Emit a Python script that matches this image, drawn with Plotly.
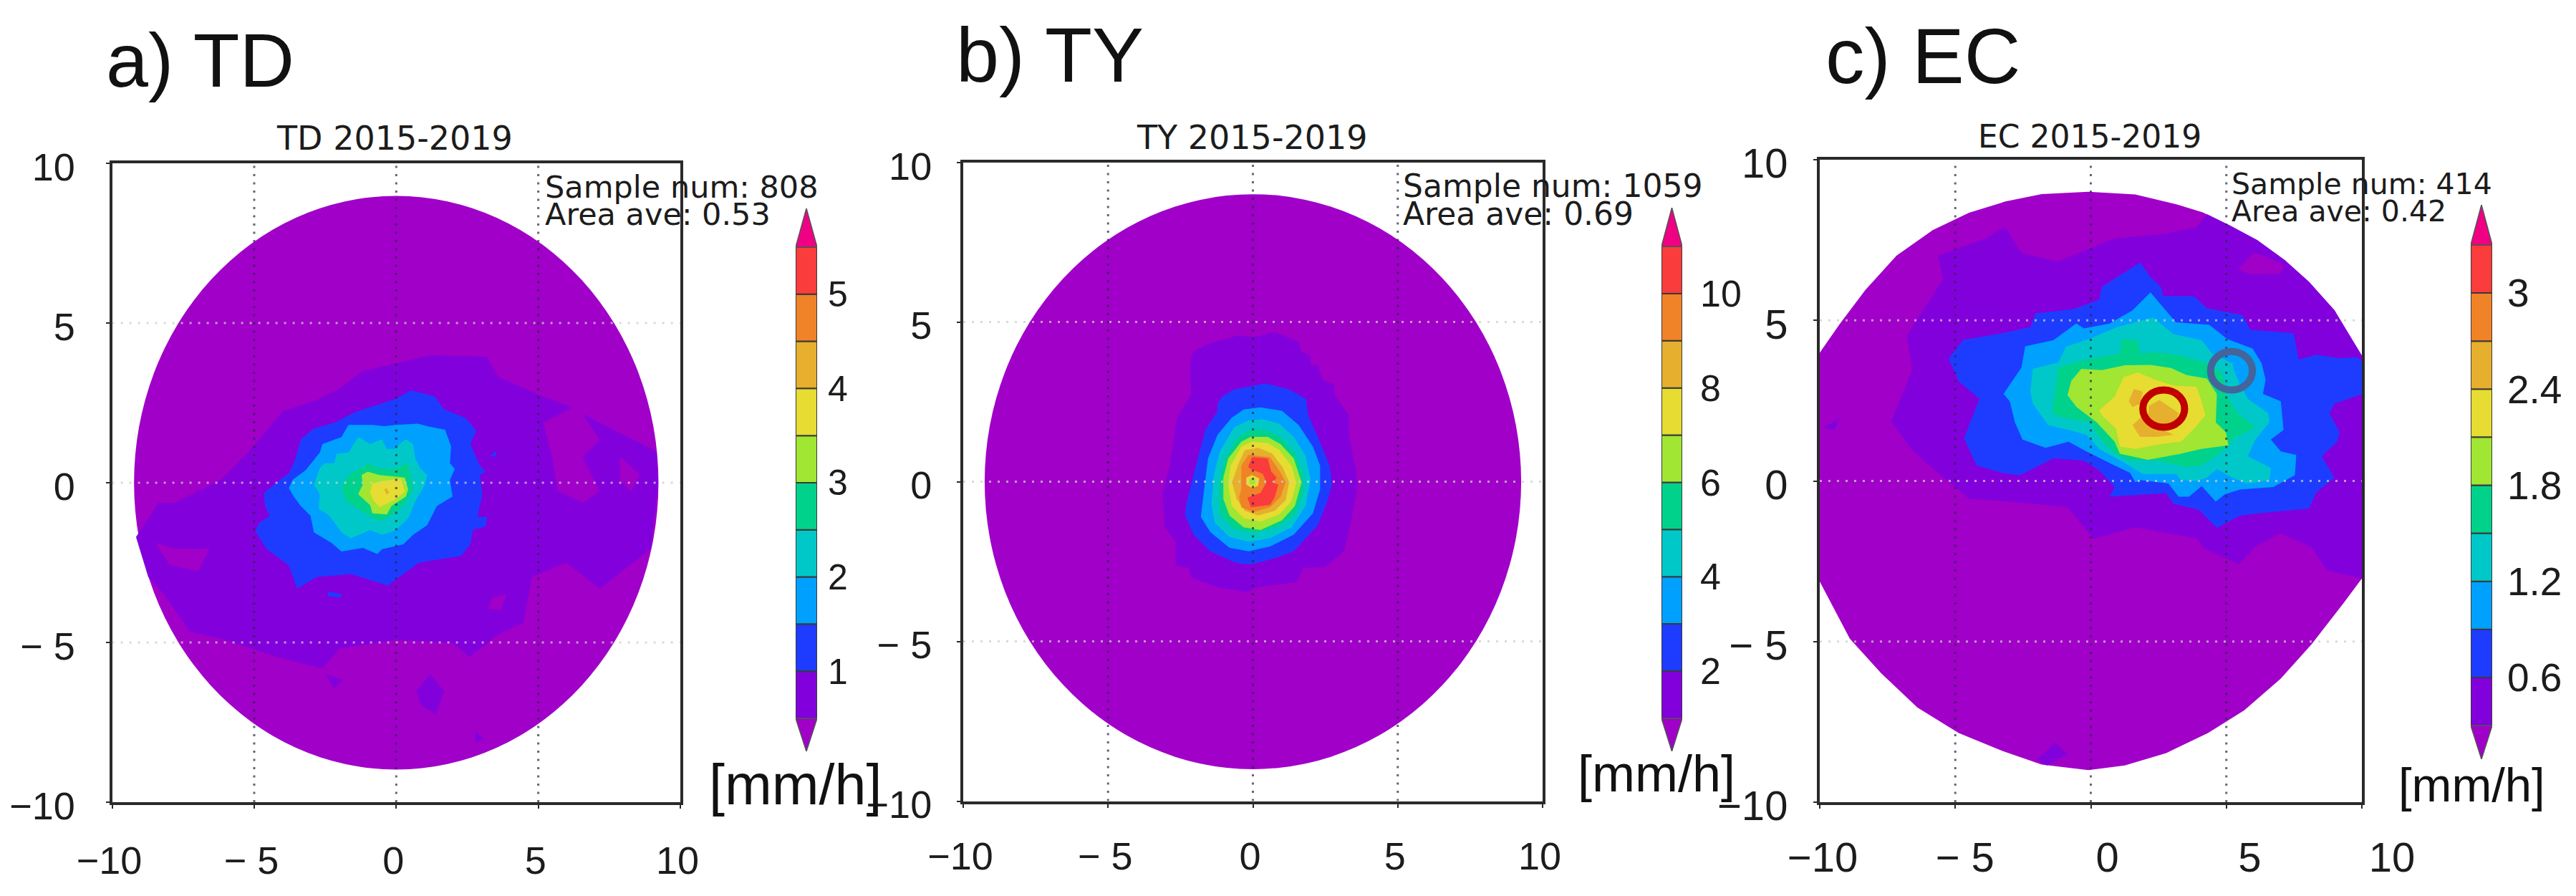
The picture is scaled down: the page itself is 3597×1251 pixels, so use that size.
import plotly.graph_objects as go

# ---------- canvas ----------
W, H = 3597, 1251

# ---------- colour bands (lowest tip, ten segments, highest tip) ----------
BAND_COLORS = ["#a000c8", "#8200dc", "#1e3cff", "#00a0ff", "#00c8c8", "#00d28c",
               "#a0e632", "#e6dc32", "#e6af2d", "#f08228", "#fa3c3c", "#f00082"]

# ---------- colourbar levels ----------
TD_LEVELS = [0.5, 1, 1.5, 2, 2.5, 3, 3.5, 4, 4.5, 5, 5.5]
TY_LEVELS = [1, 2, 3, 4, 5, 6, 7, 8, 9, 10, 11]
EC_LEVELS = [0.3, 0.6, 0.9, 1.2, 1.5, 1.8, 2.1, 2.4, 2.7, 3, 3.3]
TD_TIPS = [0.15, 5.91]
TY_TIPS = [0.3, 11.82]
EC_TIPS = [0.09, 3.55]
TD_CB_TICKS = [1, 2, 3, 4, 5]
TY_CB_TICKS = [2, 4, 6, 8, 10]
EC_CB_TICKS = [0.6, 1.2, 1.8, 2.4, 3]
TD_CB_LABELS = ["1", "2", "3", "4", "5"]
TY_CB_LABELS = ["2", "4", "6", "8", "10"]
EC_CB_LABELS = ["0.6", "1.2", "1.8", "2.4", "3"]

# ---------- axes ----------
AXIS_TICKS = [-10, -5, 0, 5, 10]
X_LABELS = ["\u221210", "\u2212 5", "0", "5", "10"]
Y_LABELS = ["\u221210", "\u2212 5", "0", "5", "10"]
GRID_TICKS = [-5, 0, 5]

# ---------- texts ----------
PANEL_TITLES = ["a) TD", "b) TY", "c) EC"]
SUB_TITLES = ["TD 2015-2019", "TY 2015-2019", "EC 2015-2019"]
SAMPLE_TEXT = ["Sample num: 808", "Sample num: 1059", "Sample num: 414"]
AREA_TEXT = ["Area ave: 0.53", "Area ave: 0.69", "Area ave: 0.42"]
UNIT_TEXT = "[mm/h]"

# ---------- rain-rate disc extents (x radius, y radius) ----------
TD_DISC = [9.23, 8.98]
TY_DISC = [9.26, 9.0]
EC_DISC = [(-10, 3.99), (-9.27, 4.88), (-8.32, 5.94), (-7.17, 7.01), (-5.83, 7.81), (-4.49, 8.35), (-3.15, 8.70),
           (-1.81, 8.93), (-0.09, 9.0), (1.64, 8.92), (3.13, 8.62), (4.13, 8.36), (5.14, 7.95), (6.14, 7.50), (7.15, 6.88),
           (8.05, 6.20), (8.99, 5.31), (9.47, 4.64), (10, 3.90), (10, -3.04), (9.29, -3.84), (8.14, -5.09), (7.0, -6.16),
           (5.66, -7.14), (4.32, -7.85), (2.78, -8.47), (1.25, -8.86), (-0.09, -9.0), (-1.81, -8.83), (-3.34, -8.38),
           (-4.87, -7.85), (-6.40, -7.05), (-7.74, -5.98), (-8.89, -4.91), (-10, -3.13)]

# ---------- TD contours ----------
TD_B1 = [(-9.16, -1.70), (-8.37, -0.63), (-7.77, -0.63), (-6.18, 0.09), (-5.18, 0.98), (-3.98, 2.24), (-2.79, 2.59),
         (-1.99, 2.95), (-1.20, 3.49), (1.20, 3.99), (3.19, 3.94), (3.59, 3.31), (4.98, 2.77), (5.98, 2.42),
         (7.17, 1.88), (9.16, 0.98), (9.22, 0), (8.96, -2.06), (7.17, -3.31), (5.98, -2.50), (4.78, -2.95),
         (4.48, -4.38), (3.59, -4.74), (2.59, -5.46), (1.99, -5.01), (0, -4.92), (-1.99, -5.19), (-2.59, -5.81),
         (-4.18, -5.46), (-5.98, -4.92), (-7.27, -4.65), (-8.17, -3.49), (-8.73, -2.95)]
TD_B0_P1 = [(5.18, 1.88), (6.37, 2.42), (7.17, 1.34), (6.57, 0.81), (7.17, -0.27), (6.57, -0.63), (5.68, -0.27), (5.48, 0.81)]
TD_B0_P2 = [(7.87, 0.81), (8.57, 0.27), (8.27, -0.27), (7.87, 0.09)]
TD_B0_P3 = [(-8.47, -1.88), (-7.77, -2.06), (-6.57, -2.06), (-6.97, -2.77), (-7.97, -2.59)]
TD_B0_P4 = [(3.39, -3.58), (3.88, -3.49), (3.69, -3.99), (3.23, -3.94)]
TD_B1_P1 = [(0.70, -6.53), (1.20, -5.99), (1.69, -6.53), (1.39, -7.25), (0.90, -6.98)]
TD_B1_P2 = [(-2.49, -5.99), (-1.89, -6.17), (-2.19, -6.44)]
TD_B1_P3 = [(2.79, -7.78), (3.09, -8.05), (2.79, -8.14)]
TD_B2 = [(-4.96, -1.52), (-4.83, -1.26), (-4.45, -1.03), (-4.62, -0.73), (-4.66, -0.32), (-3.78, 0.31), (-3.57, 0.69),
         (-3.36, 1.36), (-2.90, 1.70), (-2.18, 1.88), (-1.43, 2.22), (-0.50, 2.48), (0, 2.63), (0.51, 2.89),
         (1.35, 2.71), (1.68, 2.30), (2.44, 2.03), (2.82, 1.62), (2.61, 1.21), (2.94, 0.54), (3.15, 0.35),
         (2.94, 0.24), (3.03, -0.36), (2.86, -1.07), (3.20, -1.07), (3.15, -1.37), (2.69, -1.48), (2.61, -1.93),
         (2.27, -2.30), (1.99, -2.33), (0.80, -2.50), (-0.30, -3.22), (-1.59, -2.86), (-2.79, -2.95), (-3.49, -3.31),
         (-3.78, -2.59), (-4.58, -2.06)]
TD_B2_P1 = [(3.32, 0.84), (3.49, 0.99), (3.53, 0.87), (3.36, 0.80)]
TD_B2_P2 = [(-2.4, -3.4), (-1.9, -3.5), (-2.0, -3.6), (-2.4, -3.55)]
TD_B3 = [(-3.78, -0.17), (-3.65, 0.09), (-3.19, 0.39), (-2.69, 0.95), (-2.60, 1.21), (-1.93, 1.43), (-1.68, 1.81),
         (-0.84, 1.81), (-0.42, 1.77), (0, 1.81), (0.76, 1.85), (1.09, 1.77), (1.72, 1.66), (1.93, 1.14), (1.89, 0.61),
         (2.06, 0.43), (1.89, 0.09), (1.98, -0.43), (1.43, -0.73), (1.09, -1.33), (0.59, -1.63), (0.25, -1.93),
         (-0.50, -2.08), (-0.67, -2.23), (-1.17, -2.04), (-1.93, -2.15), (-2.27, -1.89), (-2.90, -1.55), (-3.02, -1.03),
         (-3.36, -0.73), (-3.61, -0.43)]
TD_B4 = [(-2.90, -0.06), (-2.69, 0.46), (-2.52, 0.61), (-2.18, 0.61), (-2.10, 0.91), (-1.68, 0.95), (-1.34, 1.43),
         (-0.92, 1.21), (-0.50, 1.36), (-0.34, 1.06), (-0.08, 1.06), (0.34, 1.36), (0.59, 1.21), (0.67, 0.76),
         (0.84, 0.46), (1.09, 0.24), (1.01, -0.06), (0.67, -0.58), (0.42, -1.11), (0, -1.48), (-0.50, -1.63),
         (-0.92, -1.48), (-1.60, -1.74), (-1.93, -1.55), (-2.35, -1.03), (-2.73, -0.81), (-2.69, -0.36)]
TD_B5 = [(-1.93, -0.14), (-1.68, 0.24), (-1.26, 0.43), (-1.0, 0.61), (-0.67, 0.46), (-0.08, 0.42), (0.42, 0.61),
         (0.51, 0.24), (0.59, -0.21), (0.30, -0.66), (-0.04, -0.96), (-0.59, -1.22), (-1.09, -0.96), (-1.76, -0.58)]
TD_B6 = [(-1.34, -0.36), (-1.18, -0.06), (-1.22, 0.24), (-1.0, 0.35), (-0.59, 0.24), (0.30, 0.16), (0.42, -0.21),
         (0.34, -0.43), (-0.17, -0.73), (-0.33, -0.99), (-0.84, -0.96), (-0.92, -0.70)]
TD_B7 = [(-0.92, -0.28), (-0.84, -0.02), (-0.50, 0.05), (0.17, 0.13), (0.30, -0.28), (-0.08, -0.55), (-0.59, -0.77), (-0.84, -0.51)]
TD_B8 = [(-0.42, -0.21), (-0.34, -0.17), (-0.25, -0.32), (-0.34, -0.36)]

# ---------- TY contours ----------
TY_B1 = [(-2.13, 3.86), (-2.05, 4.08), (-1.55, 4.31), (-0.56, 4.57), (0.01, 4.53), (0.75, 4.68), (1.58, 4.38), (1.66, 4.08),
         (1.99, 3.93), (1.99, 3.67), (2.24, 3.64), (2.40, 3.19), (2.81, 3.04), (2.81, 2.74), (3.31, 2.07), (3.31, 1.47),
         (3.56, 0.35), (3.60, -0.24), (3.31, -1.58), (3.14, -2.18), (2.48, -2.67), (1.74, -2.70), (1.50, -3.15),
         (0.18, -3.30), (-0.24, -3.45), (-1.22, -3.30), (-2.13, -3.00), (-2.21, -2.70), (-2.67, -2.63), (-2.67, -1.88),
         (-3.04, -1.43), (-3.08, -0.76), (-3.12, -0.39), (-2.87, 0.50), (-2.62, 1.99), (-2.13, 2.74), (-2.17, 3.49)]
TY_B2 = [(-1.22, 2.44), (-1.06, 2.67), (-0.65, 2.89), (-0.07, 3.0), (0.42, 3.08), (1.25, 2.89), (1.83, 2.59), (1.91, 2.07),
         (2.24, 1.40), (2.65, 0.50), (2.73, -0.09), (2.57, -0.61), (2.24, -1.36), (1.41, -2.18), (0.75, -2.40),
         (-0.07, -2.59), (-0.56, -2.55), (-1.47, -2.18), (-2.05, -1.66), (-2.34, -1.06), (-2.30, -0.69), (-2.05, 0.21),
         (-1.64, 1.62), (-1.22, 2.22)]
TY_B3 = [(-0.73, 2.0), (-0.32, 2.26), (0.26, 2.33), (1.0, 2.22), (1.58, 1.77), (2.07, 1.10), (2.32, 0.50), (2.32, -0.24),
         (2.07, -0.99), (1.41, -1.66), (0.59, -2.03), (-0.15, -2.18), (-0.81, -2.07), (-1.47, -1.58), (-1.80, -1.10),
         (-1.68, -0.24), (-1.55, 0.73), (-1.22, 1.47)]
TY_B4 = [(-0.65, 1.70), (-0.15, 1.92), (0.34, 1.96), (0.92, 1.81), (1.41, 1.40), (1.82, 0.80), (1.99, 0.06), (1.82, -0.76),
         (1.33, -1.43), (0.59, -1.77), (-0.15, -1.88), (-0.81, -1.73), (-1.31, -1.29), (-1.43, -0.69), (-1.35, 0.21),
         (-1.14, 0.95)]
TY_B5 = [(-0.52, 1.40), (-0.07, 1.62), (0.42, 1.62), (0.95, 1.40), (1.45, 0.88), (1.74, 0.21), (1.74, -0.39), (1.41, -1.06),
         (0.84, -1.43), (0.01, -1.62), (-0.69, -1.47), (-1.14, -0.99), (-1.18, -0.09), (-0.98, 0.73)]
TY_B6 = [(-0.40, 1.25), (-0.07, 1.40), (0.51, 1.40), (0.95, 1.18), (1.41, 0.73), (1.68, -0.02), (1.45, -0.76), (1.0, -1.21),
         (0.26, -1.51), (-0.32, -1.43), (-0.81, -1.06), (-1.02, -0.54), (-1.02, 0.13), (-0.85, 0.73)]
TY_B7 = [(-0.40, 1.10), (-0.03, 1.25), (0.51, 1.21), (0.92, 0.99), (1.33, 0.50), (1.50, -0.02), (1.33, -0.61), (0.92, -1.02),
         (0.26, -1.25), (-0.32, -1.14), (-0.73, -0.76), (-0.85, -0.09), (-0.77, 0.50)]
TY_B8 = [(-0.28, 0.99), (0.18, 1.06), (0.67, 0.88), (1.04, 0.43), (1.25, -0.02), (1.13, -0.58), (0.75, -0.91), (0.18, -1.06),
         (-0.28, -0.91), (-0.56, -0.54), (-0.72, -0.02), (-0.52, 0.51)]
TY_B9 = [(-0.40, 0.50), (-0.15, 0.84), (0.59, 0.77), (0.96, 0.28), (1.12, -0.02), (0.96, -0.47), (0.59, -0.80), (0.01, -0.95),
         (-0.40, -0.80), (-0.48, -0.47), (-0.40, -0.24), (-0.40, 0.20)]
TY_B10 = [(-0.15, 0.50), (-0.03, 0.77), (0.51, 0.73), (0.63, 0.32), (0.82, 0.13), (0.71, -0.03), (0.88, -0.09), (0.75, -0.50),
          (0.59, -0.73), (-0.07, -0.80), (-0.19, -0.50), (0.26, -0.35), (0.47, -0.02), (0.34, 0.24), (-0.15, 0.43)]
TY_CENTER_B7 = [(-0.23, 0.13), (-0.03, 0.21), (0.22, 0.10), (0.18, -0.13), (-0.03, -0.20), (-0.23, -0.09)]
TY_CENTER_B6 = [(-0.11, 0.09), (0.08, 0.09), (0.08, -0.08), (-0.11, -0.08)]

# ---------- EC contours ----------
EC_B1 = [(-7.36, 1.85), (-6.59, 3.45), (-6.78, 4.52), (-5.44, 6.30), (-5.64, 7.01), (-3.91, 7.54), (-3.15, 7.90), (-2.57, 7.10),
         (-1.23, 6.83), (0.87, 7.54), (2.78, 7.70), (3.90, 7.90), (4.30, 8.30), (5.14, 7.95), (6.14, 7.50), (7.15, 6.88),
         (8.05, 6.20), (8.99, 5.31), (9.47, 4.64), (10, 3.90), (10, -3.04), (8.72, -2.78), (8.14, -2.06), (7.0, -1.62), (6.04, -2.06),
         (5.46, -2.60), (4.12, -2.06), (3.93, -1.80), (1.64, -1.44), (0.10, -1.80), (-0.85, -0.82), (-2.96, -0.64), (-4.49, -0.55),
         (-5.64, 0.25), (-6.59, 0.96)]
EC_B0_P1 = [(5.43, 6.60), (6.0, 7.10), (6.45, 7.0), (7.15, 6.70), (7.0, 6.45), (5.85, 6.43)]
EC_B1_P1 = [(-1.97, -8.68), (-1.33, -8.15), (-0.85, -8.50), (-1.62, -8.86)]
EC_B1_P2 = [(-9.85, 1.67), (-9.27, 1.94), (-9.46, 1.58)]
EC_B2 = [(-5.25, 3.81), (-4.70, 4.40), (-4.21, 4.46), (-3.27, 4.60), (-2.23, 4.79), (-2.04, 5.22), (-0.63, 5.35), (0.31, 5.64),
         (0.41, 6.05), (1.82, 6.80), (2.20, 6.35), (2.58, 6.05), (2.67, 5.75), (3.80, 5.75), (4.28, 5.38), (5.60, 5.16),
         (5.88, 4.71), (7.48, 4.60), (7.67, 3.78), (8.33, 3.93), (9.18, 3.82), (9.84, 3.86), (10, 3.71), (10, 2.70),
         (8.99, 2.41), (8.80, 2.11), (9.18, 1.52), (9.09, 1.22), (8.52, 0.77), (8.99, 0.10), (8.33, -0.34), (8.05, -0.86),
         (6.16, -1.01), (5.50, -1.08), (4.65, -1.46), (3.99, -0.90), (3.05, -0.71), (2.77, -0.38), (0.69, -0.49), (0.88, -0.19),
         (0.31, 0.33), (-0.25, 0.63), (-1.38, 0.70), (-2.61, 0.18), (-3.27, 0.25), (-4.21, 0.48), (-4.68, 1.32), (-4.11, 2.56),
         (-4.87, 3.10)]
EC_B3 = [(-3.22, 2.71), (-2.99, 3.00), (-2.56, 3.53), (-2.42, 4.19), (-1.38, 4.38), (-0.54, 4.90), (-0.25, 4.75), (0.69, 4.90),
         (1.54, 5.31), (2.20, 5.87), (2.77, 5.31), (3.14, 4.94), (4.37, 4.86), (5.03, 4.42), (5.97, 4.12), (6.30, 3.67),
         (6.45, 3.15), (6.35, 2.71), (7.01, 2.48), (7.11, 1.59), (6.64, 1.29), (7.01, 0.92), (7.58, 0.81), (7.53, 0.18),
         (6.73, -0.19), (5.50, -0.27), (4.94, -0.42), (4.61, -0.64), (4.09, -0.16), (3.62, -0.49), (3.24, -0.49), (2.86, -0.08),
         (1.82, 0.03), (1.64, -0.04), (1.45, 0.25), (0.88, 0.48), (-0.16, 0.92), (-0.82, 1.22), (-1.67, 1.03), (-2.52, 1.29),
         (-2.80, 1.82), (-2.99, 2.48)]
EC_B4 = [(-2.23, 2.78), (-2.14, 3.49), (-1.20, 3.69), (-0.91, 4.18), (-0.06, 4.42), (0.97, 4.79), (2.30, 5.09), (3.05, 4.57),
         (4.09, 4.38), (4.47, 3.97), (4.84, 3.82), (5.22, 3.67), (5.31, 3.38), (5.50, 3.00), (5.79, 2.56), (6.54, 2.11),
         (6.59, 1.82), (6.07, 1.29), (5.79, 0.77), (6.64, 0.40), (6.59, 0.03), (5.79, -0.08), (5.22, 0.10), (4.65, 0.37),
         (4.28, 0.10), (3.90, 0.0), (3.33, 0.03), (3.14, 0.22), (1.92, 0.22), (1.26, 0.55), (0.31, 0.99), (-0.16, 1.44),
         (-0.82, 1.59), (-1.57, 1.74), (-2.14, 2.41)]
EC_B5 = [(-1.43, 2.11), (-1.29, 2.93), (-1.20, 3.53), (-0.35, 3.75), (1.07, 3.97), (1.16, 4.42), (1.73, 4.38), (1.82, 3.97),
         (2.39, 4.01), (3.33, 3.90), (4.28, 3.67), (4.84, 3.38), (5.03, 2.63), (5.41, 2.11), (6.07, 1.67), (5.22, 1.29),
         (5.08, 1.07), (4.09, 0.48), (3.52, 0.44), (2.39, 0.63), (1.45, 0.63), (0.88, 0.85), (0.31, 1.37), (-0.06, 1.82),
         (-1.0, 1.96)]
EC_B6 = [(-0.86, 2.67), (-0.72, 3.12), (-0.35, 3.49), (0.41, 3.45), (1.26, 3.60), (2.20, 3.61), (2.96, 3.52), (3.52, 3.30),
         (4.28, 3.19), (4.65, 2.71), (4.61, 1.82), (4.98, 1.52), (5.08, 1.11), (4.09, 1.0), (3.33, 0.85), (2.11, 0.66),
         (1.07, 0.85), (0.88, 1.22), (0.22, 1.82), (-0.53, 2.30)]
EC_B7 = [(0.31, 2.19), (0.88, 2.63), (1.21, 3.23), (1.73, 3.38), (2.39, 3.15), (3.05, 2.97), (3.90, 2.93), (4.09, 2.48),
         (4.23, 2.04), (3.81, 1.63), (3.33, 1.22), (2.58, 1.15), (1.64, 1.0), (1.07, 1.07), (0.93, 1.63), (0.41, 2.04)]
EC_B8_P1 = [(2.15, 2.34), (2.53, 2.52), (3.24, 2.11), (3.05, 1.70), (2.30, 1.70), (2.11, 1.96)]
EC_B8_P2 = [(1.40, 2.48), (1.59, 2.86), (1.92, 2.78), (1.82, 2.41), (1.54, 2.30)]
EC_B8_P3 = [(1.54, 1.74), (1.82, 1.96), (2.58, 1.63), (3.05, 1.44), (2.39, 1.37), (1.82, 1.37)]

# ---------- EC rings (centre x, centre y, x radius, y radius) ----------
EC_RED_RING = [2.69, 2.25, 0.77, 0.58]
EC_BLUE_RING = [5.19, 3.43, 0.77, 0.60]

# ---------- layer order: (polygon, band index) ----------
TD_LAYERS = [(TD_B1, 1), (TD_B0_P1, 0), (TD_B0_P2, 0), (TD_B0_P3, 0), (TD_B0_P4, 0), (TD_B1_P1, 1), (TD_B1_P2, 1), (TD_B1_P3, 1),
             (TD_B2, 2), (TD_B2_P1, 2), (TD_B2_P2, 2), (TD_B3, 3), (TD_B4, 4), (TD_B5, 5), (TD_B6, 6), (TD_B7, 7), (TD_B8, 8)]
TY_LAYERS = [(TY_B1, 1), (TY_B2, 2), (TY_B3, 3), (TY_B4, 4), (TY_B5, 5), (TY_B6, 6), (TY_B7, 7), (TY_B8, 8), (TY_B9, 9), (TY_B10, 10),
             (TY_CENTER_B7, 7), (TY_CENTER_B6, 6)]
EC_LAYERS = [(EC_DISC, 0), (EC_B1, 1), (EC_B0_P1, 0), (EC_B1_P1, 1), (EC_B1_P2, 1), (EC_B2, 2), (EC_B3, 3), (EC_B4, 4), (EC_B5, 5),
             (EC_B6, 6), (EC_B7, 7), (EC_B8_P1, 8), (EC_B8_P2, 8), (EC_B8_P3, 8)]

# ---------- page layout in pixels ----------
PANELS = [
    dict(box=(156.6, 950, 228, 1120), cb=(1111, 1141, 291, 1049), layers=TD_LAYERS, disc=TD_DISC, levels=TD_LEVELS, tips=TD_TIPS,
         cb_ticks=TD_CB_TICKS, cb_labels=TD_CB_LABELS, cb_font=50, cb_off=14, tick_font=54,
         x_off=26, y_off=32, title_xy=(146, 84), title_font=106, sub_xy=(551, 193), sub_font=46,
         info_x=759, info_y=(261, 299), info_font=43, unit_xy=(988, 1095), unit_font=79),
    dict(box=(1345, 2154, 226.6, 1118.5), cb=(2320, 2349, 290, 1049), layers=TY_LAYERS, disc=TY_DISC, levels=TY_LEVELS, tips=TY_TIPS,
         cb_ticks=TY_CB_TICKS, cb_labels=TY_CB_LABELS, cb_font=52, cb_off=24, tick_font=54,
         x_off=22, y_off=24, title_xy=(1333, 76), title_font=108, sub_xy=(1748, 192), sub_font=46,
         info_x=1957, info_y=(260, 298), info_font=44, unit_xy=(2201, 1080), unit_font=72),
    dict(box=(2541, 3298, 223, 1120), cb=(3450, 3480, 286, 1060), layers=EC_LAYERS, disc=None, levels=EC_LEVELS, tips=EC_TIPS,
         cb_ticks=EC_CB_TICKS, cb_labels=EC_CB_LABELS, cb_font=55, cb_off=20, tick_font=58,
         x_off=38, y_off=24, title_xy=(2547, 78), title_font=109, sub_xy=(2918, 190), sub_font=44,
         info_x=3114, info_y=(257, 295), info_font=41, unit_xy=(3347, 1095), unit_font=67,
         label_span=(2545, 3340)),
]

SANS = "Liberation Sans"
STROKE = "DejaVu Sans"
INK = "#1c1c1c"
FRAME = "#2a2a2a"

def dx(v):
    return v / W

def dy(v):
    return 1 - v / H

fig = go.Figure()
shapes = []
annotations = []
layout = {}
axis_no = 0

for p in PANELS:
    # main map axes
    axis_no += 1
    xn, yn = f"x{axis_no}", f"y{axis_no}"
    l, r, t, b = p["box"]
    has_label_axis = "label_span" in p
    layout[f"xaxis{axis_no}"] = dict(
        domain=[dx(l), dx(r)], range=[-10, 10], anchor=yn, automargin=False, tickmode="array",
        tickvals=AXIS_TICKS, ticktext=X_LABELS, showgrid=False, zeroline=False,
        showline=True, mirror=True, linewidth=4, linecolor=FRAME,
        ticks="outside", ticklen=5, tickwidth=2, tickcolor=FRAME,
        showticklabels=not has_label_axis,
        ticklabelstandoff=p["x_off"], ticklabelshift=-4,
        tickfont=dict(family=SANS, size=p["tick_font"], color=INK))
    layout[f"yaxis{axis_no}"] = dict(
        domain=[dy(b), dy(t)], range=[-10, 10], anchor=xn, automargin=False, tickmode="array",
        tickvals=AXIS_TICKS, ticktext=Y_LABELS, showgrid=False, zeroline=False,
        showline=True, mirror=True, linewidth=4, linecolor=FRAME,
        ticks="outside", ticklen=5, tickwidth=2, tickcolor=FRAME,
        ticklabelstandoff=p["y_off"], ticklabelshift=5,
        tickfont=dict(family=SANS, size=p["tick_font"], color=INK))

    if p["disc"] is not None:
        rx, ry = p["disc"]
        shapes.append(dict(type="circle", xref=xn, yref=yn, x0=-rx, x1=rx, y0=-ry, y1=ry,
                           fillcolor=BAND_COLORS[0], line=dict(width=0), layer="below"))

    for poly, band in p["layers"]:
        xs = [v[0] for v in poly]
        ys = [v[1] for v in poly]
        fig.add_trace(go.Scatter(x=xs, y=ys, xaxis=xn, yaxis=yn, mode="lines", fill="toself",
                                 fillcolor=BAND_COLORS[band], line=dict(width=0, color=BAND_COLORS[band]),
                                 hoverinfo="skip", showlegend=False))

    # dotted graticule above the field
    for g in GRID_TICKS:
        shapes.append(dict(type="line", xref=xn, yref=yn, x0=g, x1=g, y0=-10, y1=10, layer="above",
                           line=dict(color="rgba(45,40,70,0.72)", width=3, dash="3px,8.5px")))
        shapes.append(dict(type="line", xref=xn, yref=yn, x0=-10, x1=10, y0=g, y1=g, layer="above",
                           line=dict(color="rgba(205,205,205,0.75)", width=3, dash="3px,9px")))

    # stretched tick-label row used by panel c: a hidden y axis keeps it independent
    if has_label_axis:
        la, lb = p["label_span"]
        axis_no += 1
        lx, ly = f"x{axis_no}", f"y{axis_no}"
        layout[f"xaxis{axis_no}"] = dict(
            domain=[dx(la), dx(lb)], range=[-10, 10], anchor=ly, automargin=False, tickmode="array",
            tickvals=AXIS_TICKS, ticktext=X_LABELS, showgrid=False, zeroline=False,
            showline=False, ticks="", ticklabelstandoff=p["x_off"],
            tickfont=dict(family=SANS, size=p["tick_font"], color=INK))
        layout[f"yaxis{axis_no}"] = dict(domain=[dy(b), dy(t)], range=[-10, 10], anchor=lx, visible=False, automargin=False)
        fig.add_trace(go.Scatter(x=[-10, 10], y=[0, 0], xaxis=lx, yaxis=ly, mode="lines",
                                 line=dict(width=0), opacity=0, hoverinfo="skip", showlegend=False))
        for ring, col in ((EC_RED_RING, "#c00000"), (EC_BLUE_RING, "#44659a")):
            cx, cy, ax, ay = ring
            shapes.append(dict(type="circle", xref=xn, yref=yn, x0=cx - ax, x1=cx + ax, y0=cy - ay, y1=cy + ay,
                               line=dict(color=col, width=10), layer="above"))

    # colourbar on its own small axes
    axis_no += 1
    cxn, cyn = f"x{axis_no}", f"y{axis_no}"
    cl, cr, ct, cb = p["cb"]
    levels, tips = p["levels"], p["tips"]
    layout[f"xaxis{axis_no}"] = dict(domain=[dx(cl), dx(cr)], range=[0, 1], anchor=cyn, visible=False, automargin=False)
    layout[f"yaxis{axis_no}"] = dict(
        domain=[dy(cb), dy(ct)], range=[tips[0], tips[1]], anchor=cxn, side="right", automargin=False, tickmode="array",
        tickvals=p["cb_ticks"], ticktext=p["cb_labels"], showgrid=False, zeroline=False, showline=False,
        ticks="", ticklabelstandoff=p["cb_off"],
        tickfont=dict(family=SANS, size=p["cb_font"], color=INK))
    for i in range(len(levels) - 1):
        fig.add_trace(go.Bar(x=[0.5], y=[levels[i + 1] - levels[i]], base=[levels[i]], width=[1], xaxis=cxn, yaxis=cyn,
                             marker=dict(color=BAND_COLORS[i + 1], line=dict(color="#3a3a3a", width=2)),
                             hoverinfo="skip", showlegend=False))
    for base, tip, col in ((levels[0], tips[0], BAND_COLORS[0]), (levels[-1], tips[1], BAND_COLORS[-1])):
        fig.add_trace(go.Scatter(x=[0, 0.5, 1, 0], y=[base, tip, base, base], xaxis=cxn, yaxis=cyn, mode="lines",
                                 fill="toself", fillcolor=col, line=dict(color="#555555", width=1.5),
                                 hoverinfo="skip", showlegend=False))

for i, p in enumerate(PANELS):
    tx, ty = p["title_xy"]
    annotations.append(dict(text=PANEL_TITLES[i], xref="paper", yref="paper", x=dx(tx), y=dy(ty), xanchor="left", yanchor="middle",
                            showarrow=False, font=dict(family=SANS, size=p["title_font"], color="#111111")))
    sx, sy = p["sub_xy"]
    annotations.append(dict(text=SUB_TITLES[i], xref="paper", yref="paper", x=dx(sx), y=dy(sy), xanchor="center", yanchor="middle",
                            showarrow=False, font=dict(family=STROKE, size=p["sub_font"], color=INK)))
    y1, y2 = p["info_y"]
    annotations.append(dict(text=SAMPLE_TEXT[i], xref="paper", yref="paper", x=dx(p["info_x"]), y=dy(y1), xanchor="left", yanchor="middle",
                            showarrow=False, font=dict(family=STROKE, size=p["info_font"], color=INK)))
    annotations.append(dict(text=AREA_TEXT[i], xref="paper", yref="paper", x=dx(p["info_x"]), y=dy(y2), xanchor="left", yanchor="middle",
                            showarrow=False, font=dict(family=STROKE, size=p["info_font"], color=INK)))
    ux, uy = p["unit_xy"]
    annotations.append(dict(text=UNIT_TEXT, xref="paper", yref="paper", x=dx(ux), y=dy(uy), xanchor="left", yanchor="middle",
                            showarrow=False, font=dict(family=SANS, size=p["unit_font"], color="#111111")))

fig.update_layout(template="none", width=W, height=H, autosize=False, margin=dict(l=0, r=0, t=0, b=0, pad=0),
                  paper_bgcolor="white", plot_bgcolor="rgba(0,0,0,0)", showlegend=False, barmode="overlay",
                  shapes=shapes, annotations=annotations, **layout)

fig.write_html("out.html", config={"displayModeBar": False},
               post_script="document.body.style.margin='0';document.body.style.overflow='hidden';")
